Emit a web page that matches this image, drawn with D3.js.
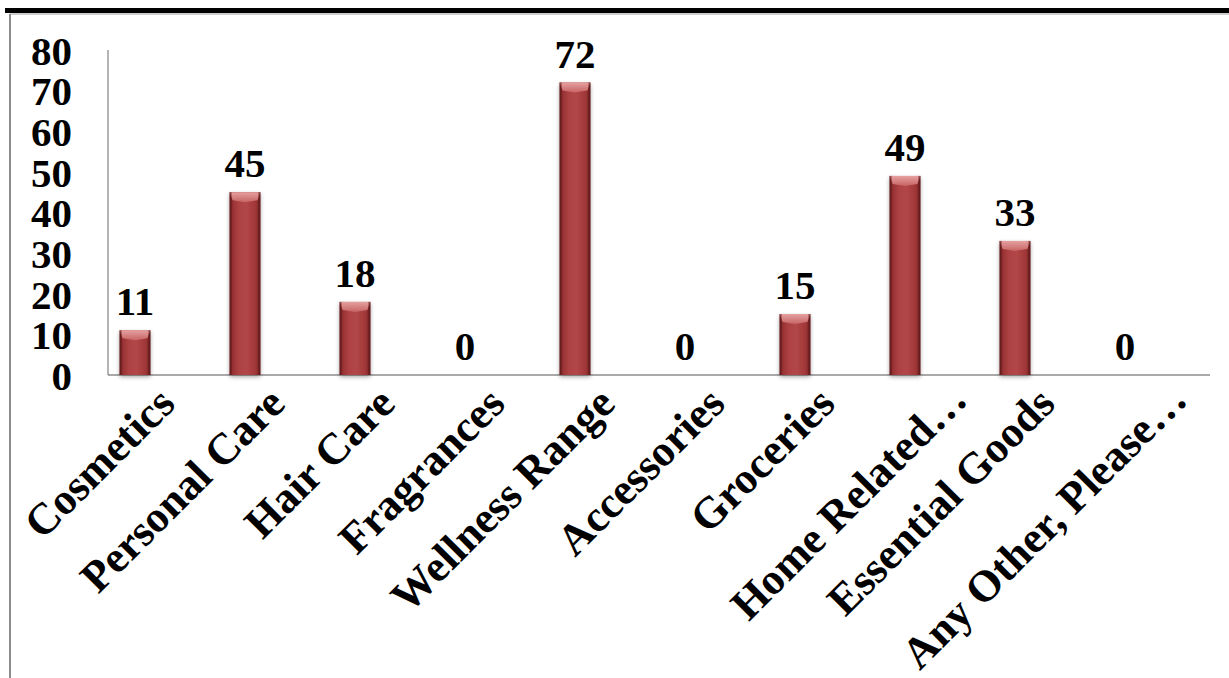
<!DOCTYPE html>
<html>
<head>
<meta charset="utf-8">
<script src="https://cdn.jsdelivr.net/npm/d3@7"></script>
<style>
  html, body { margin: 0; padding: 0; background: #fff; }
  svg { display: block; }
  text { font-family: "Liberation Serif", "Times New Roman", serif; font-weight: bold; fill: #000; }
</style>
</head>
<body>
<svg id="chart" width="1229" height="678"></svg>
<script>
// Product categories and number of respondents
const categories = ["Cosmetics", "Personal Care", "Hair Care", "Fragrances", "Wellness Range",
                    "Accessories", "Groceries", "Home Related…", "Essential Goods", "Any Other, Please…"];
const values = [11, 45, 18, 0, 72, 0, 15, 49, 33, 0];
const yTicks = [0, 10, 20, 30, 40, 50, 60, 70, 80];

const svg = d3.select("#chart");
const W = 1229, H = 678;

const defs = svg.append("defs");
const grad = defs.append("linearGradient").attr("id", "barFill")
  .attr("x1", "0").attr("x2", "1").attr("y1", "0").attr("y2", "0");
[[0, "#6f1f21"], [0.12, "#9a3335"], [0.3, "#ad4244"], [0.55, "#b24647"], [0.85, "#a03738"], [1, "#6a1d1f"]]
  .forEach(([o, c]) => grad.append("stop").attr("offset", o).attr("stop-color", c));
const bevel = defs.append("linearGradient").attr("id", "bevelFill")
  .attr("x1", "0").attr("x2", "0").attr("y1", "0").attr("y2", "1");
bevel.append("stop").attr("offset", 0).attr("stop-color", "#e6a0a0");
bevel.append("stop").attr("offset", 1).attr("stop-color", "#c76464");
const shadow = defs.append("filter").attr("id", "barShadow")
  .attr("x", "-40%").attr("y", "-10%").attr("width", "180%").attr("height", "125%");
shadow.append("feDropShadow").attr("dx", 0).attr("dy", 2).attr("stdDeviation", 2.2)
  .attr("flood-color", "#000").attr("flood-opacity", 0.35);

// Page rule and chart frame
svg.append("rect").attr("x", 5).attr("y", 8).attr("width", W - 5).attr("height", 5).attr("fill", "#000");
svg.append("line").attr("x1", 10).attr("x2", W).attr("y1", 14).attr("y2", 14)
  .attr("stroke", "#bdbdbd").attr("stroke-width", 1.5);
svg.append("line").attr("x1", 10).attr("x2", 10).attr("y1", 14).attr("y2", H)
  .attr("stroke", "#8c8c8c").attr("stroke-width", 2);

// Scales
const x = d3.scaleBand().domain(categories).range([80, 1180])
  .paddingInner(0.72).paddingOuter(0.36);
const y = d3.scaleLinear().domain([0, 80]).range([375, 50]);
const axisLeft = 108, axisRight = 1210;

// Axis lines
svg.append("line").attr("x1", axisLeft).attr("x2", axisLeft).attr("y1", y(80)).attr("y2", y(0))
  .attr("stroke", "#8c8c8c").attr("stroke-width", 1.3);
svg.append("line").attr("x1", axisLeft).attr("x2", axisRight).attr("y1", y(0)).attr("y2", y(0))
  .attr("stroke", "#8c8c8c").attr("stroke-width", 1.3);

// Y tick labels
const yAxis = d3.axisLeft(y).tickValues(yTicks).tickSize(0).tickPadding(0);
const gy = svg.append("g").attr("transform", `translate(72,0)`).call(yAxis);
gy.select(".domain").remove();
gy.selectAll("text").attr("x", 0).attr("dy", "0.35em")
  .style("font-size", "41px").style("font-family", "'Liberation Serif', serif").style("font-weight", "bold")
  .attr("fill", "#000");

// Bars
const bw = x.bandwidth();
const bars = svg.append("g").selectAll("g").data(categories.map((c, i) => ({ c, v: values[i] })))
  .join("g").filter(d => d.v > 0);
bars.append("rect")
  .attr("x", d => x(d.c)).attr("y", d => y(d.v))
  .attr("width", bw).attr("height", d => y(0) - y(d.v))
  .attr("fill", "url(#barFill)").attr("filter", "url(#barShadow)");
// top bevel facet
const b = 8;
bars.append("path")
  .attr("d", d => {
    const x0 = x(d.c), x1 = x0 + bw, t = y(d.v), m = x0 + bw / 2;
    return `M${x0},${t} L${x1},${t} L${x1 - 3},${t + b} L${m},${t + b + 2} L${x0 + 3},${t + b} Z`;
  })
  .attr("fill", "url(#bevelFill)");
// side edges
bars.append("rect").attr("x", d => x(d.c)).attr("y", d => y(d.v))
  .attr("width", 2).attr("height", d => y(0) - y(d.v)).attr("fill", "#5e1a1b").attr("opacity", 0.6);
bars.append("rect").attr("x", d => x(d.c) + bw - 2).attr("y", d => y(d.v))
  .attr("width", 2).attr("height", d => y(0) - y(d.v)).attr("fill", "#5e1a1b").attr("opacity", 0.6);

// Value labels
svg.append("g").selectAll("text").data(categories.map((c, i) => ({ c, v: values[i] })))
  .join("text")
  .attr("x", d => x(d.c) + bw / 2)
  .attr("y", d => y(d.v) - 15)
  .attr("text-anchor", "middle")
  .style("font-size", "41px")
  .text(d => d.v);

// Category labels, rotated; truncated names sit a little further out
svg.append("g").selectAll("text").data(categories)
  .join("text")
  .attr("transform", c => {
    const cut = c.endsWith("…");
    return `translate(${x(c) + bw / 2 + (cut ? 64 : 42)},${cut ? 402 : 406}) rotate(-45)`;
  })
  .attr("text-anchor", "end")
  .style("font-size", "44px")
  .text(c => c);
</script>
</body>
</html>
